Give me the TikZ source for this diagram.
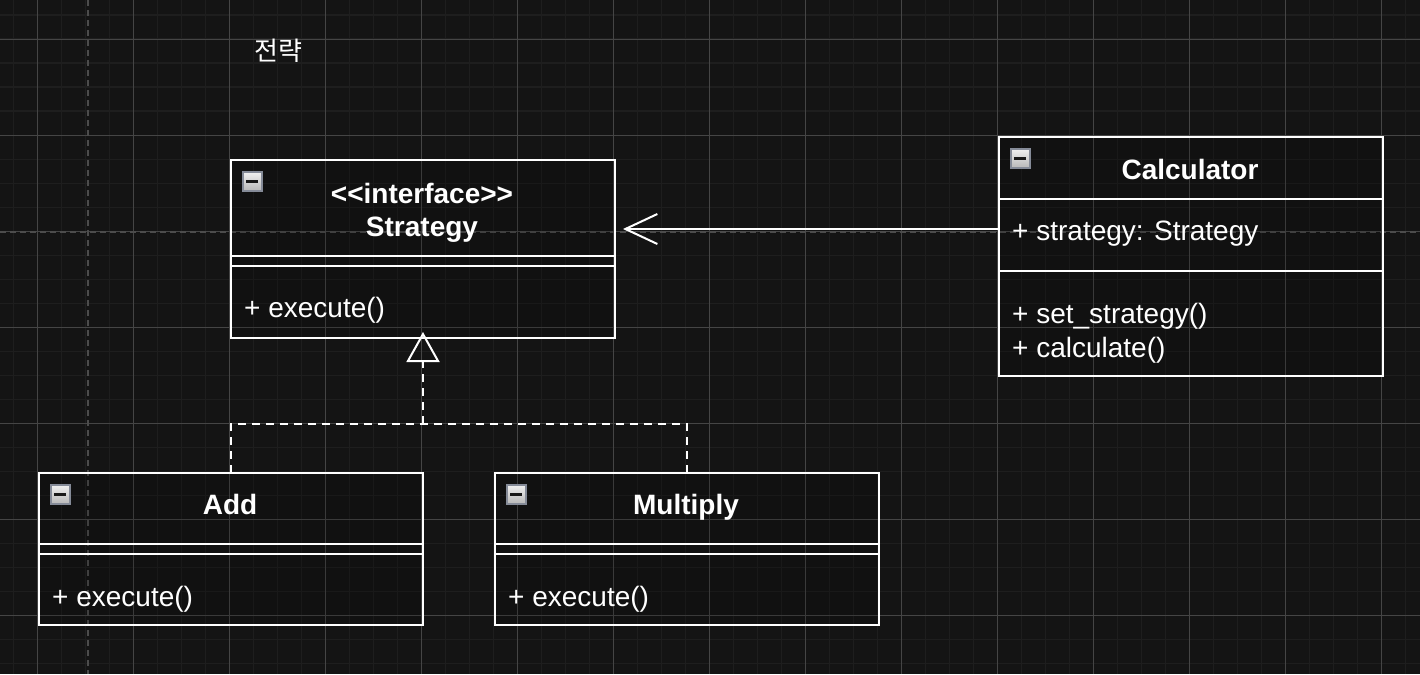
\documentclass[tikz,border=0pt]{standalone}
\usepackage{fontspec}
\setmainfont{Liberation Sans}
\newfontfamily\krfont{Noto Sans CJK KR}
\usepackage{tikz}
\usetikzlibrary{arrows.meta,positioning}

\definecolor{canvas}{HTML}{141414}
\definecolor{gridminor}{HTML}{1E1E1E}
\definecolor{gridmajor}{HTML}{454545}
\definecolor{guide}{HTML}{4C4C4C}
\definecolor{iconedge}{HTML}{858B98}

\tikzset{
  umlpart/.style={draw=white, line width=2pt, fill=black, fill opacity=0.15, minimum width=384pt, inner sep=0pt, outer sep=0pt},
  umltitle/.style={font=\fontsize{28}{34}\selectfont\bfseries, text=white, inner sep=0pt, anchor=base},
  umlmember/.style={font=\fontsize{28}{34}\selectfont, text=white, inner sep=0pt, anchor=base west},
  minusicon/.style={draw=iconedge, line width=2pt, top color=white!94!black, bottom color=white!72!black, minimum size=19pt, inner sep=0pt,
    path picture={\fill[black!90] ([xshift=-6pt,yshift=-1.5pt]path picture bounding box.center) rectangle ([xshift=6pt,yshift=1.5pt]path picture bounding box.center);}},
  realize/.style={draw=white, line width=2pt, dash pattern=on 8pt off 6pt},
  assoc/.style={draw=white, line width=2pt, -{Straight Barb[length=32pt,width=30pt]}}
}

\begin{document}
\begin{tikzpicture}[x=1pt, y=-1pt]
\useasboundingbox (0,0) rectangle (1420,674);
\fill[canvas] (0,0) rectangle (1420,674);

% grid
\foreach \i in {0,...,58} \draw[gridminor, line width=1.6pt] ({13.3+24*\i},0) -- ({13.3+24*\i},674);
\foreach \i in {0,...,27} \draw[gridminor, line width=1.6pt] (0,{15.3+24*\i}) -- (1420,{15.3+24*\i});
\foreach \i in {0,...,14} \draw[gridmajor, line width=0.9pt] ({37.3+96*\i},0) -- ({37.3+96*\i},674);
\foreach \i in {0,...,6} \draw[gridmajor, line width=0.9pt] (0,{39.3+96*\i}) -- (1420,{39.3+96*\i});
\draw[guide, line width=1.5pt, dash pattern=on 6pt off 4pt] (88,0) -- (88,674);
\draw[guide, line width=1.5pt, dash pattern=on 6pt off 4pt] (0,232) -- (1420,232);

\node[font=\krfont\fontsize{26}{32}\selectfont, text=white, inner sep=0pt] (pattern) at (278,51) {전략};

% Strategy
\node[umlpart, minimum height=96pt, anchor=north west] (strathead) at (231,160) {};
\node[umlpart, minimum height=10pt, below=0pt of strathead] (stratattr) {};
\node[umlpart, minimum height=72pt, below=0pt of stratattr] (stratops) {};
\node[minusicon] (straticon) at ([xshift=21pt,yshift=-21.5pt]strathead.north west) {};
\node[umltitle] (stratstereo) at (422,203) {<\kern0pt<interface>\kern0pt>};
\node[umltitle] (stratname) at (422,236) {Strategy};
\node[umlmember] (stratexec) at (244,317) {+ execute()};

% Calculator
\node[umlpart, minimum height=62pt, anchor=north west] (calchead) at (999,137) {};
\node[umlpart, minimum height=72pt, below=0pt of calchead] (calcattr) {};
\node[umlpart, minimum height=105pt, below=0pt of calcattr] (calcops) {};
\node[minusicon] (calcicon) at ([xshift=21pt,yshift=-21.5pt]calchead.north west) {};
\node[umltitle] (calcname) at (1190,179) {Calculator};
\node[umlmember] (calcfield) at (1012,240) {+ strategy: Strategy};
\node[umlmember] (calcset) at (1012,323) {+ set\_strategy()};
\node[umlmember] (calccalc) at (1012,357) {+ calculate()};

% Add
\node[umlpart, minimum height=71pt, anchor=north west] (addhead) at (39,473) {};
\node[umlpart, minimum height=10pt, below=0pt of addhead] (addattr) {};
\node[umlpart, minimum height=71pt, below=0pt of addattr] (addops) {};
\node[minusicon] (addicon) at ([xshift=21pt,yshift=-21.5pt]addhead.north west) {};
\node[umltitle] (addname) at (230,514) {Add};
\node[umlmember] (addexec) at (52,606) {+ execute()};

% Multiply
\node[umlpart, minimum height=71pt, anchor=north west] (multhead) at (495,473) {};
\node[umlpart, minimum height=10pt, below=0pt of multhead] (multattr) {};
\node[umlpart, minimum height=71pt, below=0pt of multattr] (multops) {};
\node[minusicon] (multicon) at ([xshift=21pt,yshift=-21.5pt]multhead.north west) {};
\node[umltitle] (multname) at (686,514) {Multiply};
\node[umlmember] (multexec) at (508,606) {+ execute()};

% connectors
\coordinate (realjoin) at (423,424);
\coordinate (assocrow) at (0,229);
\draw[realize] (addhead.north) |- (realjoin) -| (multhead.north);
\draw[realize, -{Triangle[open, length=30pt, width=33pt]}] (realjoin) -- ([yshift=6pt]stratops.south);
\draw[assoc] (calchead.west |- assocrow) -- ([xshift=8pt]strathead.east |- assocrow);

\end{tikzpicture}
\end{document}
